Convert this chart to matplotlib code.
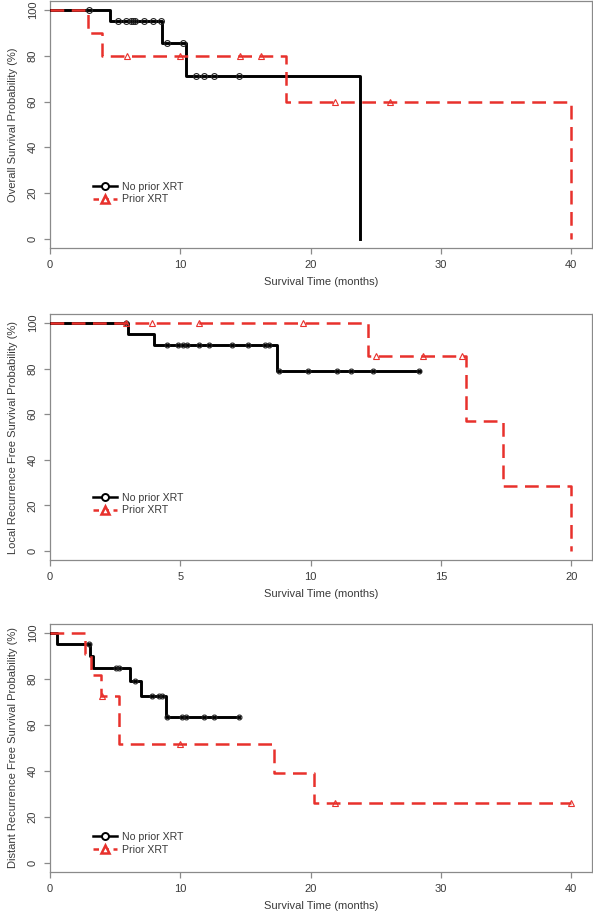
#%%### Imports
import numpy as np
import matplotlib as mpl
mpl.use('Agg')
import matplotlib.pyplot as plt
from matplotlib.lines import Line2D

plt.rcParams['font.family'] = ['Liberation Sans', 'DejaVu Sans']
plt.rcParams['font.size'] = 8

#%%### Data
## Overall survival
os_no_t = [0, 4.6, 8.6, 10.4, 23.8]
os_no_s = [100, 95.2, 85.7, 71.4, 0]
os_no_cens = [3.0, 5.2, 5.8, 6.2, 6.4, 6.5, 7.2, 7.9, 8.5, 9.0, 10.2, 11.2, 11.8, 12.6, 14.5]
os_prior_t = [0, 2.9, 4.0, 18.1, 40.0]
os_prior_s = [100, 90, 80, 60, 0]
os_prior_cens = [5.9, 10.0, 14.6, 16.2, 21.9, 26.1]

## Local recurrence free survival
lr_no_t = [0, 3.0, 4.0, 8.7, 14.2]
lr_no_s = [100, 95.2, 90.5, 79.0, 79.0]
lr_no_cens = [2.9, 4.5, 4.9, 5.1, 5.25, 5.7, 6.1, 7.0, 7.6, 8.25, 8.4, 8.8,
              9.9, 11.0, 11.55, 12.4, 14.15]
lr_prior_t = [0, 12.2, 15.95, 17.4, 20.0]
lr_prior_s = [100, 85.7, 57.1, 28.6, 0]
lr_prior_cens = [2.9, 3.9, 5.7, 9.7, 12.5, 14.3, 15.8]

## Distant recurrence free survival
dr_no_t = [0, 0.5, 3.1, 3.3, 6.15, 7.0, 8.9, 14.5]
dr_no_s = [100, 95.2, 90.0, 85.0, 79.0, 72.5, 63.4, 63.4]
dr_no_cens = [3.0, 5.1, 5.3, 6.5, 7.8, 8.4, 8.6, 9.0, 10.1, 10.4, 11.8, 12.6, 14.5]
dr_prior_t = [0, 2.7, 3.15, 3.9, 5.3, 17.2, 20.3, 40.0]
dr_prior_s = [100, 90.9, 81.8, 72.7, 51.9, 38.9, 25.9, 25.9]
dr_prior_cens = [4.0, 10.0, 21.9, 40.0]

ylabels = [
    'Overall Survival Probability (%)',
    'Local Recurrence Free Survival Probability (%)',
    'Distant Recurrence Free Survival Probability (%)',
]
xlabel = 'Survival Time (months)'
legend_labels = ['No prior XRT', 'Prior XRT']

#%%### Style
black = 'black'
red = '#e8312c'
gray = '#8a8a8a'
txt = '#3a3a3a'
dash = (0, (5.5, 3))


def step_at(t, s, c):
    i = np.searchsorted(np.asarray(t), c, side='right') - 1
    return np.asarray(s)[i]


def km_panel(ax, no_t, no_s, no_cens, pr_t, pr_s, pr_cens, xmax, xticks, ylabel,
             leg_y, ms_c=4):
    ax.step(no_t, no_s, where='post', color=black, lw=2.1, zorder=3)
    ax.plot(no_cens, step_at(no_t, no_s, no_cens), ls='none', marker='o',
            mfc='none', mec='#222222', ms=ms_c, mew=0.8, zorder=4)
    ax.step(pr_t, pr_s, where='post', color=red, lw=1.8, ls=dash, zorder=5)
    ax.plot(pr_cens, step_at(pr_t, pr_s, pr_cens), ls='none', marker='^',
            mfc='none', mec=red, ms=5, mew=0.8, zorder=6)

    ax.set_xlim(0, xmax)
    ax.set_ylim(-4, 104)
    ax.set_xticks(xticks)
    ax.set_yticks([0, 20, 40, 60, 80, 100])
    for sp in ax.spines.values():
        sp.set_color(gray)
        sp.set_linewidth(0.9)
    ax.tick_params(axis='both', direction='out', length=4.3, width=0.9,
                   color=gray, labelcolor=txt, pad=4.5)
    for lab in ax.get_yticklabels():
        lab.set_rotation(90)
        lab.set_va('center')
    ax.set_xlabel(xlabel, color=txt, labelpad=5)
    ax.set_ylabel(ylabel, color=txt, labelpad=7)

    handles = [
        Line2D([], [], color=black, lw=1.8, marker='o', mfc='white', mec=black,
               ms=5, mew=1.4),
        Line2D([], [], color=red, lw=1.8, ls=(0, (2.2, 1.8)), marker='^',
               mfc='white', mec=red, ms=6, mew=1.8),
    ]
    ax.legend(handles, legend_labels, loc='center left',
              bbox_to_anchor=(0.079, leg_y), frameon=False, borderpad=0,
              borderaxespad=0, handlelength=2.3, handletextpad=0.45,
              labelspacing=0.25, fontsize=7.6, labelcolor=txt)


#%%### Plot
W, H = 593, 917
fig = plt.figure(figsize=(W / 100, H / 100), dpi=100)
ax1 = fig.add_axes([50 / W, (H - 248) / H, 542 / W, 247 / H])
ax2 = fig.add_axes([50 / W, (H - 560) / H, 542 / W, 246 / H])
ax3 = fig.add_axes([50 / W, (H - 872) / H, 542 / W, 248 / H])

km_panel(ax1, os_no_t, os_no_s, os_no_cens, os_prior_t, os_prior_s, os_prior_cens,
         41.6, [0, 10, 20, 30, 40], ylabels[0], 0.223, ms_c=4.2)
km_panel(ax2, lr_no_t, lr_no_s, lr_no_cens, lr_prior_t, lr_prior_s, lr_prior_cens,
         20.8, [0, 5, 10, 15, 20], ylabels[1], 0.228, ms_c=3.5)
km_panel(ax3, dr_no_t, dr_no_s, dr_no_cens, dr_prior_t, dr_prior_s, dr_prior_cens,
         41.6, [0, 10, 20, 30, 40], ylabels[2], 0.115, ms_c=3.5)

fig.savefig('out.png', dpi=100)
